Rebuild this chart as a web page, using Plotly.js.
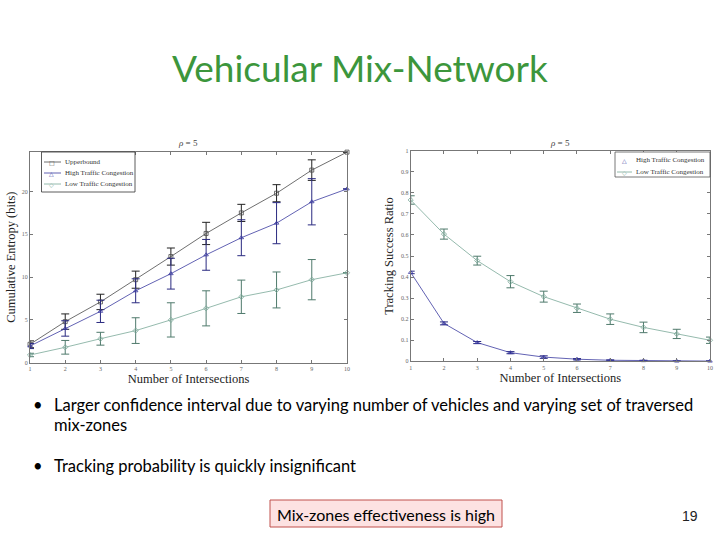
<!DOCTYPE html>
<html>
<head>
<meta charset="utf-8">
<script src="https://cdn.plot.ly/plotly-3.0.1.min.js"></script>
<style>
html,body{margin:0;padding:0;background:#fff;}
#chart{width:720px;height:540px;}
</style>
</head>
<body>
<div id="chart"></div>
<script>
// ---- data ----
var intersections = [1, 2, 3, 4, 5, 6, 7, 8, 9, 10];

var entropyUpper = [2.15, 4.8, 7.1, 9.7, 12.4, 15.1, 17.5, 19.8, 22.5, 24.6];
var entropyUpperErr = [0.4, 0.9, 0.9, 1.0, 1.0, 1.3, 1.0, 1.0, 1.2, 0];
var entropyHigh = [1.95, 4.0, 6.0, 8.4, 10.4, 12.6, 14.6, 16.3, 18.8, 20.3];
var entropyHighErr = [0.3, 0.9, 1.3, 1.4, 1.8, 1.8, 2.1, 2.4, 2.7, 0];
var entropyLow = [0.9, 1.8, 2.8, 3.75, 5.0, 6.35, 7.7, 8.5, 9.7, 10.5];
var entropyLowErr = [0.2, 0.8, 0.75, 1.5, 2.0, 2.05, 1.95, 2.1, 2.35, 0];

var trackHigh = [0.422, 0.18, 0.089, 0.041, 0.02, 0.01, 0.005, 0.003, 0.001, 0.001];
var trackHighErr = [0.006, 0.007, 0.005, 0.005, 0.006, 0.003, 0.002, 0.002, 0.001, 0.001];
var trackLow = [0.766, 0.604, 0.478, 0.378, 0.307, 0.252, 0.20, 0.161, 0.13, 0.10];
var trackLowErr = [0.02, 0.024, 0.021, 0.029, 0.026, 0.02, 0.025, 0.025, 0.022, 0.015];

var xTicks = [1, 2, 3, 4, 5, 6, 7, 8, 9, 10];
var entropyTicks = [0, 5, 10, 15, 20];
var trackTicks = [0, 0.1, 0.2, 0.3, 0.4, 0.5, 0.6, 0.7, 0.8, 0.9, 1];

var seriesNames = ["Upperbound", "High Traffic Congestion", "Low Traffic Congestion"];
var slideTitle = "Vehicular Mix-Network";
var bullets = [
  "Larger confidence interval due to varying number of vehicles and varying set of traversed",
  "mix-zones",
  "Tracking probability is quickly insignificant"
];
var boxText = "Mix-zones effectiveness is high";
var pageNumber = "19";

// ---- helpers ----
var W = 720, H = 540;
function px(x) { return x / W; }
function py(y) { return 1 - y / H; }

var cUpper = "#4a4a4a", cHigh = "#3a3aa0", cLow = "#7aa898";
var serif = "Liberation Serif, Times New Roman, serif";
var sans = "Lato, Open Sans, sans-serif";

function trace(x, y, err, name, color, errColor, symbol, xa, ya) {
  return {
    x: x, y: y, name: name, type: "scatter", mode: "lines+markers",
    xaxis: xa, yaxis: ya, cliponaxis: false, showlegend: false,
    line: {color: color, width: 0.8},
    marker: {symbol: symbol, size: 4, color: color, line: {color: color, width: 0.8}},
    error_y: {type: "data", array: err, visible: true, color: errColor, thickness: 1, width: 4}
  };
}

var data = [
  trace(intersections, entropyUpper, entropyUpperErr, seriesNames[0], cUpper, "#222222", "square-open", "x", "y"),
  trace(intersections, entropyHigh, entropyHighErr, seriesNames[1], cHigh, "#2a2a80", "triangle-up-open", "x", "y"),
  trace(intersections, entropyLow, entropyLowErr, seriesNames[2], cLow, "#4f7a6c", "diamond-open", "x", "y"),
  trace(intersections, trackHigh, trackHighErr, seriesNames[1], cHigh, "#2a2a80", "triangle-up-open", "x2", "y2"),
  trace(intersections, trackLow, trackLowErr, seriesNames[2], cLow, "#4f7a6c", "diamond-open", "x2", "y2")
];

function axisBase() {
  return {
    showgrid: false, zeroline: false, showline: true, mirror: "ticks",
    linecolor: "#777", linewidth: 1, ticks: "inside", ticklen: 3, tickcolor: "#777",
    tickfont: {family: serif, size: 6, color: "#666"}
  };
}

var xa1 = Object.assign(axisBase(), {
  domain: [px(30), px(347)], anchor: "y", range: [1, 10], tickvals: xTicks,
  title: {text: "Number of Intersections", font: {family: serif, size: 12.5, color: "#222"}, standoff: 2}
});
var ya1 = Object.assign(axisBase(), {
  domain: [py(362.7), py(151.7)], anchor: "x", range: [0, 24.65], tickvals: entropyTicks,
  title: {text: "Cumulative Entropy (bits)", font: {family: serif, size: 12.5, color: "#222"}, standoff: 3}
});
var xa2 = Object.assign(axisBase(), {
  domain: [px(410.7), px(710)], anchor: "y2", range: [1, 10], tickvals: xTicks,
  title: {text: "Number of Intersections", font: {family: serif, size: 12.5, color: "#222"}, standoff: 2}
});
var ya2 = Object.assign(axisBase(), {
  domain: [py(361.3), py(150.7)], anchor: "x2", range: [0, 1], tickvals: trackTicks,
  title: {text: "Tracking Success Ratio", font: {family: serif, size: 12.5, color: "#222"}, standoff: 4}
});

function ann(text, x, y, font, xanchor) {
  return {text: text, x: px(x), y: py(y), xref: "paper", yref: "paper", showarrow: false,
    xanchor: xanchor || "center", yanchor: "middle", font: font};
}
var slideFont = {family: sans, size: 16.5, color: "#000"};
var legFont = {family: serif, size: 7, color: "#333"};
var symFont = function (c) { return {family: "DejaVu Sans, sans-serif", size: 6, color: c}; };

var annotations = [
  ann(slideTitle, 360, 68, {family: sans, size: 37, color: "#3c963c"}),
  ann("<i>ρ</i> = 5", 188, 143, {family: serif, size: 9, color: "#444"}),
  ann("<i>ρ</i> = 5", 560, 143, {family: serif, size: 9, color: "#444"}),
  ann("•", 31, 405, slideFont, "left"),
  ann(bullets[0], 52, 405, slideFont, "left"),
  ann(bullets[1], 52, 425, slideFont, "left"),
  ann("•", 31, 466, slideFont, "left"),
  ann(bullets[2], 52, 466, slideFont, "left"),
  ann(boxText, 386, 514, {family: sans, size: 16, color: "#000"}),
  ann(pageNumber, 690, 516, {family: "Liberation Sans, Arial, sans-serif", size: 14, color: "#222"}),
  // left legend
  ann(seriesNames[0], 63, 162, legFont, "left"),
  ann(seriesNames[1], 63, 173, legFont, "left"),
  ann(seriesNames[2], 63, 184, legFont, "left"),
  ann("□", 52, 162, symFont(cUpper)),
  ann("△", 52, 173, symFont(cHigh)),
  ann("◇", 52, 184, symFont(cLow)),
  // right legend
  ann(seriesNames[1], 634, 160, legFont, "left"),
  ann(seriesNames[2], 634, 172, legFont, "left"),
  ann("△", 624, 160, symFont(cHigh)),
  ann("◇", 624, 172, symFont(cLow))
];

function hline(x0, x1, y, c) {
  return {type: "line", xref: "paper", yref: "paper", x0: px(x0), x1: px(x1), y0: py(y), y1: py(y),
    line: {color: c, width: 0.8}};
}

var shapes = [
  {type: "rect", xref: "paper", yref: "paper", x0: px(270), x1: px(502), y0: py(527), y1: py(500),
   fillcolor: "#fde2e2", line: {color: "#c0504d", width: 1}, layer: "below"},
  {type: "rect", xref: "paper", yref: "paper", x0: px(41.5), x1: px(135), y0: py(192), y1: py(152),
   fillcolor: "#fff", line: {color: "#333", width: 0.8}},
  {type: "rect", xref: "paper", yref: "paper", x0: px(615), x1: px(710), y0: py(177), y1: py(152),
   fillcolor: "#fff", line: {color: "#555", width: 0.8}},
  hline(44, 61, 162, cUpper),
  hline(44, 61, 173, cHigh),
  hline(44, 61, 184, cLow),
  hline(617, 632, 172, cLow)
];

var layout = {
  width: W, height: H, margin: {l: 0, r: 0, t: 0, b: 0},
  paper_bgcolor: "#fff", plot_bgcolor: "#fff", showlegend: false,
  xaxis: xa1, yaxis: ya1, xaxis2: xa2, yaxis2: ya2,
  annotations: annotations, shapes: shapes
};

Plotly.newPlot("chart", data, layout, {staticPlot: true, displayModeBar: false});
</script>
</body>
</html>
